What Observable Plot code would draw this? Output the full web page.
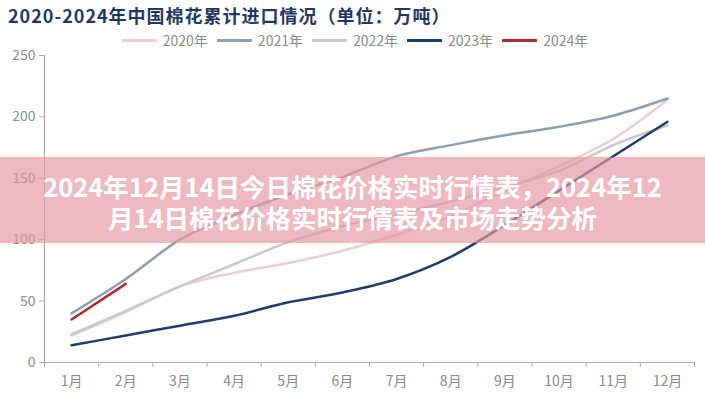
<!DOCTYPE html>
<html>
<head>
<meta charset="utf-8">
<script src="https://cdn.jsdelivr.net/npm/d3@7"></script>
<script src="https://cdn.jsdelivr.net/npm/@observablehq/plot@0.6"></script>
<style>
  body { margin: 0; background: #fff; font-family: "Noto Sans CJK SC", "Noto Sans", sans-serif; }
  #wrap { position: relative; width: 705px; height: 400px; overflow: hidden; }
  #title { position: absolute; left: 8px; top: 3px; font-size: 18px; letter-spacing: 1px; font-weight: 700; color: #1f3864; white-space: nowrap; line-height: 24px; }
  #legend { position: absolute; left: 0; top: 32px; width: 710px; display: flex; justify-content: center; gap: 9px; font-size: 14px; color: #8a8a8a; line-height: 17px; }
  #legend .item { display: flex; align-items: center; gap: 6px; }
  #legend .sw { width: 35px; height: 2.5px; }
  #chart { position: absolute; left: 0; top: 45px; }
  #banner { position: absolute; left: 0; top: 157px; width: 705px; height: 86px; background: rgba(228,150,162,0.68); color: #fff; font-weight: 700; font-size: 25.5px; line-height: 31px; text-align: center; padding-top: 13px; box-sizing: border-box; white-space: nowrap; }
</style>
</head>
<body>
<div id="wrap">
  <div id="title"></div>
  <div id="legend"></div>
  <div id="chart"></div>
  <div id="banner">2024年12月14日今日棉花价格实时行情表，2024年12<br>月14日棉花价格实时行情表及市场走势分析</div>
</div>
<script>
const titleText = "2020-2024年中国棉花累计进口情况（单位：万吨）";
const months = ["1月","2月","3月","4月","5月","6月","7月","8月","9月","10月","11月","12月"];
const seriesNames = ["2020年","2021年","2022年","2023年","2024年"];
const seriesColors = ["#ebcdd3","#8d9db6","#c9c9c9","#1b3d70","#b5282e"];
const v2020 = [22, 41, 62, 73, 81, 91, 104, 119, 140, 160, 182, 214];
const v2021 = [40, 68, 100, 120, 137, 151, 168, 177, 185, 192, 201, 215];
const v2022 = [23, 42, 62, 80, 98, 111, 121, 131, 143, 156, 177, 193];
const v2023 = [14, 22, 30, 38, 49, 57, 68, 86, 112, 140, 168, 196];
const v2024 = [35, 64];
const yTicks = [0, 50, 100, 150, 200, 250];

const allValues = [v2020, v2021, v2022, v2023, v2024];
const data = [];
allValues.forEach((vals, si) => {
  vals.forEach((v, i) => data.push({series: seriesNames[si], m: i + 1, v}));
});

document.getElementById("title").textContent = titleText;
const legend = document.getElementById("legend");
seriesNames.forEach((n, i) => {
  const it = document.createElement("div");
  it.className = "item";
  const sw = document.createElement("div");
  sw.className = "sw";
  sw.style.background = seriesColors[i];
  const t = document.createElement("span");
  t.textContent = n;
  it.appendChild(sw); it.appendChild(t);
  legend.appendChild(it);
});

const boundaries = d3.range(0.5, 13, 1);
const centers = d3.range(1, 13);

const chart = Plot.plot({
  width: 705,
  height: 355,
  marginTop: 10,
  marginBottom: 38,
  marginLeft: 44,
  marginRight: 11,
  style: {fontFamily: "'Noto Sans CJK SC', 'Noto Sans', sans-serif", fontSize: "14px", color: "#8a8a8a", background: "transparent"},
  x: {type: "linear", domain: [0.5, 12.5], axis: null},
  y: {domain: [0, 250], axis: null},
  color: {domain: seriesNames, range: seriesColors},
  marks: [
    Plot.axisY({ticks: yTicks, tickSize: 5, tickPadding: 4, stroke: "#aaaaaa", fill: "#8a8a8a", fontSize: 14, label: null}),
    Plot.axisX({ticks: boundaries, tickSize: 5, tickFormat: () => "", stroke: "#aaaaaa", label: null}),
    Plot.axisX({ticks: centers, tickSize: 0, tickPadding: 14, tickFormat: d => months[d - 1], fill: "#8a8a8a", fontSize: 14, label: null}),
    Plot.ruleX([0.5], {stroke: "#aaaaaa", strokeWidth: 1.2}),
    Plot.ruleY([0], {stroke: "#aaaaaa", strokeWidth: 1.2}),
    Plot.line(data, {x: "m", y: "v", z: "series", stroke: "series", strokeWidth: 2.5, curve: "monotone-x"})
  ]
});
document.getElementById("chart").appendChild(chart);
</script>
</body>
</html>
